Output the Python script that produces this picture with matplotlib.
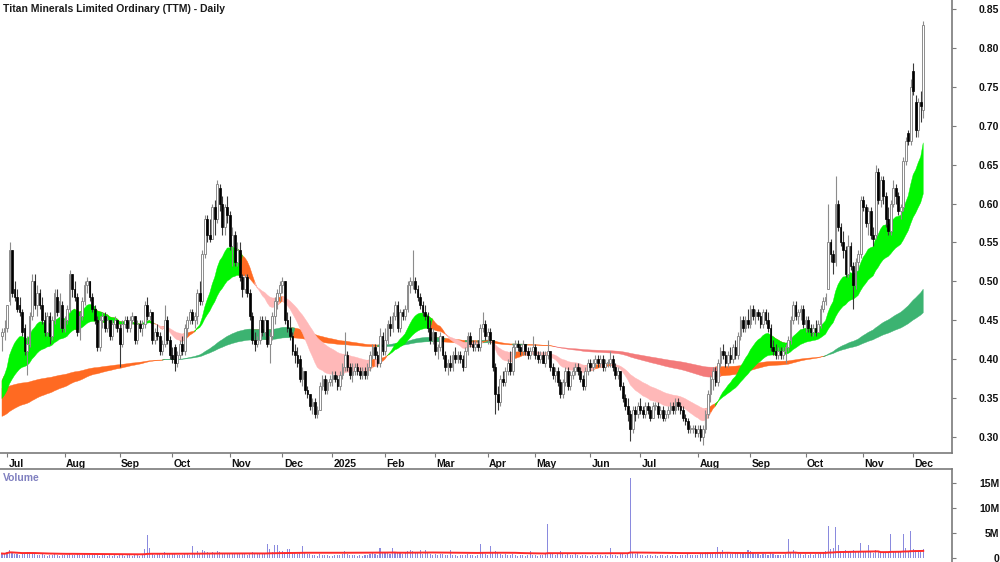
import numpy as np
import pandas as pd
import matplotlib
matplotlib.use("Agg")
import matplotlib.pyplot as plt
from matplotlib.transforms import ScaledTranslation

plt.rcParams['font.family'] = ['Liberation Sans', 'DejaVu Sans']

title = "Titan Minerals Limited Ordinary (TTM) - Daily"
first_session = "2024-06-27"
asx_holidays = ["2024-12-25", "2024-12-26", "2025-01-01", "2025-01-27",
                "2025-04-18", "2025-04-21", "2025-04-25", "2025-06-09"]

# daily prices in cents, one line per month (Jun-2024 ... Dec-2025)
opens_c = [
    43, 43.5,
    44, 47.5, 54, 49, 48, 47, 46, 44, 41, 42, 45.5, 50, 47, 48.5, 47, 45, 43.5, 45.5, 43, 45, 48, 46, 47,
    44, 45, 46.5, 51, 49, 48, 43.5, 45.5, 47.5, 49.5, 50, 48, 46.5, 45, 41.5, 45, 45.5, 44, 45, 43, 44.5, 45,
    44, 42, 44.5, 45, 44, 45, 45.5, 42.5, 44.5, 44, 44.5, 47, 45.5, 46, 42.5, 43.5, 43, 41, 42, 45, 42.5,
    40.5, 41.5, 39.5, 40.5, 42, 41, 44, 45, 46, 45, 45.5, 48.5, 47.5, 53.5, 58, 56, 55.5, 59.5, 58, 62, 60, 57, 59.5,
    58.5, 54.5, 56, 52.5, 54, 50.5, 49, 50.5, 48.5, 45.5, 42.5, 42, 42.5, 45, 43.5, 45, 42, 43, 45.5, 47.5, 48.5,
    49.5, 50, 45, 44, 43, 41, 40.5, 40, 37.5, 38.5, 36, 35.5, 34, 34.5, 33, 33.5, 36.5, 37.5, 36, 37,
    37.5, 38, 37.5, 36.5, 38, 39, 40.5, 39, 38, 38.5, 39, 38.5, 38, 38.5, 38, 39, 40.5, 41.5, 40.5, 39.5, 43,
    41, 42.5, 44.5, 44, 45.5, 47, 44, 46, 45.5, 46.5, 49.5, 49.5, 50, 49, 48, 47, 46, 45.5, 44, 42.5,
    43.5, 41, 41.5, 43, 40.5, 39, 39.5, 39, 40.5, 40, 40.5, 40, 39, 41, 43, 42, 41.5, 42, 41.5, 44, 44.5,
    43, 43.5, 42.5, 39, 35.5, 34.5, 37.5, 37, 38.5, 39.5, 38.5, 41.5, 42, 41.5, 41, 42, 41, 40.5, 41,
    41.5, 40.5, 40, 40.5, 39.5, 40.5, 41, 39, 38, 38.5, 37, 35.5, 37, 38.5, 36.5, 38, 38.5, 39, 38.5, 37.5, 36.5, 38.5,
    39.5, 39, 39.5, 40, 39.5, 40, 39, 39.5, 39.5, 40, 39, 38, 38.5, 36.5, 35, 34, 33, 31, 33.5, 33,
    34, 33.5, 33, 34, 33.5, 32.5, 34, 34, 33, 33.5, 32.5, 33, 33.5, 34, 33.5, 34.5, 34, 33.5, 32.5, 32, 31, 31, 31,
    30.5, 31, 30, 31, 33, 35.5, 37.5, 38.5, 37, 39.5, 41, 40.5, 39.5, 40.5, 40, 41.5, 40.5, 43, 45, 44, 45,
    44.5, 46.5, 45.5, 46, 45.5, 44.5, 46, 45, 44, 41.5, 41, 40.5, 41, 40.5, 41, 41.5, 42.5, 45, 47, 45.5, 46, 46.5,
    44.5, 45, 44, 43.5, 44, 43.5, 44.5, 46.5, 47.5, 49, 55, 53.5, 52.5, 60, 57, 55, 54, 51, 54.5, 52, 49.5, 52.5, 53.5,
    60.5, 59.5, 57.5, 59, 56, 56, 64, 60.5, 63, 61, 58, 56.5, 60, 62, 61, 59, 59.5, 65.5, 69, 68,
    77, 73, 69.5, 73, 72,
]
highs_c = [
    44, 45,
    47, 55, 54, 50, 49, 48, 46.5, 44.5, 43, 46, 51, 51, 49.5, 49, 48, 46, 46, 46, 45.5, 49, 49, 48.5, 47.5,
    45.5, 47, 51.5, 51, 50, 48.5, 46, 48, 50, 50.5, 50, 48.5, 47, 45.5, 45.5, 46, 46, 45.5, 45, 45, 45.5, 45,
    44.5, 45, 45.5, 45.5, 45.5, 46, 45.5, 45, 45, 45, 47.5, 48, 46.5, 46, 44, 44.5, 43.5, 42.5, 47, 45.5, 43,
    41.5, 42, 41, 42.5, 43, 44.5, 45.5, 46.5, 46.5, 46, 49, 50, 54, 58.5, 58.5, 58, 60, 60.5, 63, 62.5, 61, 60, 61,
    59, 57, 56.5, 55, 55, 51, 51, 51, 49, 46, 43.5, 43, 45.5, 45.5, 45.5, 45, 43.5, 46, 48, 49, 50,
    50.5, 50, 46, 45.5, 43.5, 42, 41.5, 40.5, 39, 38.5, 36.5, 35.5, 35, 35, 34, 37, 38, 38, 37.5, 38,
    38.5, 38.5, 38, 38.5, 39.5, 43.5, 41, 39.5, 39.5, 39.5, 39.5, 39, 39, 39, 39.5, 41, 42, 42, 41, 44, 43.5,
    44, 45, 45.5, 46, 47.5, 47.5, 46.5, 46.5, 47, 50, 50.5, 54, 50.5, 49.5, 48.5, 47.5, 47, 46, 45, 44,
    43.5, 42, 43.5, 43, 41, 40, 40.5, 41, 41.5, 41, 41, 40.5, 41.5, 43.5, 43.5, 42.5, 42.5, 42.5, 44.5, 46, 45,
    44, 44, 42.5, 39.5, 36.5, 38, 38.5, 39, 40, 41, 42, 42.5, 42.5, 42, 42.5, 42, 41.5, 41.5, 43,
    42, 41, 41, 41, 41, 42.5, 41, 39.5, 39, 39, 37.5, 37.5, 39, 39, 38.5, 39, 39.5, 39.5, 39, 38, 39, 40,
    40, 40, 40.5, 40.5, 40.5, 40.5, 40, 40, 41, 40.5, 39.5, 39, 38.5, 37, 35.5, 35, 33.5, 34, 34, 34.5,
    35, 34, 34.5, 34.5, 34, 34.5, 34.5, 34.5, 34, 34, 33.5, 34, 34.5, 34.5, 35, 35, 34.5, 34, 33, 32.5, 31.5, 31.5, 31.5,
    31.5, 31.5, 31.5, 33.5, 36, 38, 39, 39, 40, 41.5, 42, 41, 41, 41.5, 42, 42.5, 43.5, 45.5, 45.5, 45.5, 46.5,
    47, 47, 46.5, 46.5, 46, 46.5, 46.5, 46, 44.5, 42.5, 42, 41.5, 41.5, 41.5, 42, 43, 45.5, 47.5, 47.5, 46.5, 47, 47,
    45.5, 45.5, 44.5, 44.5, 45, 45, 47, 48, 48.5, 60, 55.5, 54, 63.5, 60.5, 57.5, 56.5, 54.5, 56, 55, 52.5, 53, 54, 61,
    61, 60, 59.5, 59.5, 57, 65, 64.5, 63.5, 63.5, 61.5, 59.5, 60.5, 63, 62.5, 61.5, 60, 66, 68.5, 69.5, 76,
    78, 74, 73.5, 74.5, 83.5,
]
lows_c = [
    41, 42.5,
    43.5, 47, 48, 47.5, 46, 45.5, 43, 40.5, 38, 41.5, 45, 46.5, 45.5, 46.5, 44.5, 43, 43, 42, 42.5, 44.5, 45.5, 44, 43.5,
    43.5, 44.5, 46, 48, 47.5, 43, 42.5, 45, 47, 48.5, 47.5, 46, 44.5, 41, 41, 44, 43.5, 43.5, 42.5, 42.5, 44, 43.5,
    39, 41.5, 44, 43.5, 43.5, 44.5, 42, 42, 43.5, 43, 44, 45, 45, 42, 42, 42.5, 40.5, 40.5, 41.5, 42, 40,
    39.5, 38.5, 39, 40, 40.5, 40.5, 43, 44.5, 44.5, 44, 44.5, 47, 47, 53, 55, 55, 55.5, 56, 57.5, 59, 56, 56, 57.5,
    54, 52, 52, 52, 50, 48, 48.5, 48, 45, 42, 41, 41.5, 42, 43, 43, 41.5, 39.5, 42.5, 44.5, 46.5, 47.5,
    48.5, 44.5, 43.5, 42.5, 40.5, 39.5, 39, 37, 36.5, 35.5, 35, 33.5, 33, 32.5, 32.5, 33.5, 36, 35.5, 35.5, 36.5,
    36.5, 37, 36, 36, 37.5, 38.5, 38.5, 37.5, 37, 38, 38, 37.5, 37.5, 37.5, 37.5, 38.5, 40, 40, 39, 39, 40.5,
    40.5, 42, 43, 43.5, 45, 43.5, 43.5, 45, 45, 46, 48.5, 49, 48.5, 47.5, 46.5, 45.5, 45, 43.5, 42, 42,
    40.5, 40, 41, 40, 38.5, 38, 38.5, 38.5, 39.5, 39.5, 39.5, 38.5, 39, 40.5, 41.5, 41, 41, 41, 41, 43.5, 42.5,
    42, 42, 38.5, 33, 33.5, 34, 36.5, 36.5, 38, 38, 38, 40.5, 41, 40.5, 40.5, 40.5, 40, 40, 40.5,
    40, 39.5, 39.5, 39.5, 39, 40, 38.5, 37.5, 37, 36.5, 35, 35, 36.5, 36, 36, 37.5, 38, 38, 37, 36, 36, 38,
    38.5, 38.5, 39, 39, 39, 38.5, 38.5, 39, 39, 38.5, 37.5, 37.5, 36, 34.5, 33.5, 32, 29.5, 30.5, 32, 32.5,
    33, 32.5, 32.5, 33, 32, 32.5, 33.5, 32.5, 32.5, 32, 32, 32.5, 33, 33, 33, 33.5, 33, 32, 31.5, 30.5, 30.5, 30.5, 30,
    30, 29.5, 29, 30.5, 32.5, 34.5, 36, 36.5, 36.5, 39, 40, 39, 39, 39.5, 39.5, 40, 40, 42.5, 43.5, 43.5, 44,
    44, 45, 44.5, 45, 44, 44, 44.5, 43.5, 41, 40.5, 40, 40, 40, 40, 39.5, 41, 42, 44.5, 45, 44.5, 45, 44,
    43.5, 43.5, 43, 43, 43, 43.5, 44, 46, 47, 49, 52.5, 51, 52, 56.5, 54.5, 53, 50.5, 50.5, 51.5, 46.5, 49, 51.5, 53,
    59, 57, 56, 55.5, 54.5, 55.5, 60, 59.5, 60, 57, 56, 56, 59.5, 60, 58.5, 58, 59, 65, 67.5, 67.5,
    74, 68.5, 68.5, 70.5, 71,
]
closes_c = [
    43.5, 44,
    47, 54, 48.5, 48, 46.5, 46, 43.5, 41, 42, 45.5, 50, 47, 48.5, 47, 45, 43.5, 45.5, 43, 45, 48.5, 46, 47.5, 44,
    45, 46.5, 51, 49, 48, 43.5, 45.5, 47.5, 49.5, 50, 48, 46.5, 45, 41.5, 45, 45.5, 44, 45, 43, 44.5, 45, 44,
    42, 44.5, 45, 44, 45, 45.5, 42.5, 44.5, 44, 44.5, 47, 45.5, 46, 42.5, 43.5, 43, 41, 42, 45, 42.5, 40.5,
    40, 39.5, 40.5, 42, 41, 44, 45, 46, 45, 45.5, 48.5, 47.5, 53.5, 58, 56, 55.5, 59.5, 58, 62.5, 60, 57, 59.5, 58.5,
    54.5, 56, 52.5, 54, 50.5, 49, 50.5, 48.5, 45.5, 42.5, 42, 42.5, 45, 43.5, 45, 42, 43, 45.5, 47.5, 48.5, 49.5,
    50, 45, 44, 43, 41, 40.5, 39.5, 37.5, 38.5, 36, 35.5, 34, 34.5, 33, 33.5, 36.5, 37.5, 36, 37, 37.5,
    38, 37.5, 36.5, 38, 39, 40.5, 39, 38, 38.5, 39, 38.5, 38, 38.5, 38, 39, 40.5, 41.5, 40.5, 39.5, 43, 41,
    42.5, 44.5, 44, 45.5, 47, 44, 46, 45.5, 46.5, 49.5, 50, 50, 49, 48, 47, 46, 45.5, 44, 42.5, 43.5,
    41, 41.5, 43, 40.5, 39, 39.5, 39, 40.5, 40, 40.5, 40, 39, 41, 43, 42, 41.5, 42, 41.5, 44, 44.5, 43,
    43.5, 42.5, 39, 35.5, 34.5, 37.5, 37, 38.5, 39.5, 38.5, 41.5, 42, 41.5, 41, 42, 41, 40.5, 41, 41.5,
    40.5, 40, 40.5, 39.5, 40.5, 41, 39, 38, 38.5, 37, 35.5, 37, 38.5, 36.5, 38, 38.5, 39, 38.5, 37.5, 36.5, 38.5, 39.5,
    39, 39.5, 40, 39.5, 40, 39, 39.5, 39.5, 40, 39, 38, 38.5, 36.5, 35, 34, 33, 31, 33.5, 33, 34,
    33.5, 33, 34, 33.5, 32.5, 34, 34, 33, 33.5, 32.5, 33, 33.5, 34, 33.5, 34.5, 34, 33.5, 32.5, 32, 31, 31, 31, 30.5,
    31, 30, 31, 33, 35.5, 37.5, 38.5, 37, 39.5, 41, 40.5, 39.5, 40.5, 40, 41.5, 40.5, 43, 45, 44, 45, 44.5,
    46.5, 45.5, 46, 45.5, 44.5, 46, 45, 44, 41.5, 41, 40.5, 41, 40.5, 41, 41.5, 42.5, 45, 47, 45.5, 46, 46.5, 44.5,
    45, 44, 43.5, 44, 43.5, 44.5, 46.5, 47.5, 48, 55, 53.5, 52.5, 60, 57, 55, 54, 51, 54.5, 52, 49.5, 52.5, 53.5, 60.5,
    59.5, 57.5, 59, 56, 55.5, 64, 60.5, 63, 61, 58, 56.5, 60, 62, 61, 59, 59.5, 65.5, 68, 68, 75,
    74.5, 69.5, 73, 72.5, 83,
]
# daily volume in millions of shares
volume_m = [
    0.9, 0.8,
    1.2, 1.6, 1.1, 0.9, 0.8, 0.7, 0.9, 1.1, 1.2, 0.8, 1.0, 0.9, 0.7, 0.6, 0.8, 0.7, 0.5, 0.7, 0.6, 0.8, 0.6, 0.5, 0.7,
    0.6, 0.7, 1.1, 0.7, 0.6, 0.9, 0.7, 0.6, 0.8, 0.7, 0.6, 0.7, 0.9, 0.6, 0.5, 0.6, 0.7, 0.5, 0.6, 0.5, 0.6, 0.5,
    0.8, 0.6, 0.5, 0.6, 0.7, 0.5, 0.8, 0.6, 0.5, 0.7, 1.8, 4.6, 2.0, 1.1, 0.7, 0.8, 1.0, 0.7, 1.3, 0.8, 0.9,
    0.8, 0.9, 0.7, 0.6, 0.7, 1.0, 0.8, 0.7, 2.4, 0.9, 1.4, 1.1, 1.6, 1.5, 1.2, 1.0, 1.3, 1.1, 1.4, 1.2, 1.1, 1.0, 0.9,
    1.1, 0.9, 1.0, 0.8, 1.0, 0.9, 0.8, 0.7, 1.1, 1.2, 1.0, 0.8, 1.1, 0.9, 1.0, 2.9, 1.8, 1.2, 2.7, 2.6, 1.4,
    1.5, 1.3, 1.8, 1.9, 1.1, 1.0, 0.9, 1.2, 2.4, 1.0, 0.8, 0.9, 0.7, 0.6, 0.5, 0.8, 0.7, 0.6, 0.6, 0.5,
    0.5, 0.6, 0.7, 0.6, 0.8, 1.4, 0.8, 0.6, 0.7, 0.6, 0.5, 0.6, 0.5, 0.6, 0.7, 0.9, 1.0, 0.8, 0.7, 2.1, 1.1,
    1.0, 1.1, 0.9, 2.0, 1.2, 1.1, 1.0, 0.8, 1.1, 1.4, 1.7, 1.5, 1.2, 1.0, 1.6, 0.9, 1.7, 1.1, 0.8, 0.7,
    0.8, 0.7, 0.9, 0.8, 0.7, 0.6, 1.6, 0.7, 0.6, 0.5, 0.6, 0.7, 0.6, 0.8, 0.7, 0.6, 0.5, 0.6, 2.9, 1.3, 0.8,
    0.7, 2.4, 1.1, 1.4, 1.0, 0.9, 0.7, 0.8, 0.6, 0.7, 0.8, 0.6, 0.5, 0.6, 0.7, 0.5, 0.6, 1.4, 0.7,
    0.6, 0.5, 0.7, 0.6, 0.8, 6.9, 1.0, 0.8, 0.7, 0.9, 1.5, 0.8, 0.7, 0.8, 0.6, 0.7, 1.1, 0.6, 0.5, 0.7, 0.6, 0.5,
    0.5, 0.6, 0.5, 0.7, 0.6, 0.5, 0.6, 0.5, 2.0, 0.7, 0.6, 0.5, 0.8, 0.9, 0.7, 0.8, 16.1, 1.1, 0.8, 1.2,
    0.7, 0.6, 0.5, 0.6, 0.7, 0.5, 0.6, 0.5, 0.7, 0.6, 0.5, 0.6, 0.5, 0.7, 0.6, 0.5, 0.6, 0.7, 0.6, 0.8, 0.7, 0.6, 0.7,
    0.7, 0.8, 1.0, 1.2, 1.2, 1.1, 1.0, 0.9, 2.2, 1.1, 1.6, 0.9, 1.0, 0.8, 0.9, 1.1, 1.1, 1.2, 1.0, 0.9, 1.6,
    1.5, 1.0, 0.9, 0.8, 0.7, 0.9, 0.8, 0.7, 1.1, 0.8, 0.7, 0.6, 0.7, 0.6, 0.8, 3.9, 1.1, 1.6, 1.0, 0.9, 0.8, 0.7,
    0.8, 0.7, 0.8, 0.7, 0.8, 0.9, 1.2, 1.3, 1.4, 6.5, 1.8, 2.0, 6.3, 2.6, 1.5, 1.4, 1.6, 1.5, 1.5, 1.6, 1.4, 1.3, 3.0,
    1.4, 1.3, 2.6, 1.2, 1.1, 1.7, 1.4, 1.3, 1.2, 1.1, 1.3, 4.9, 1.4, 1.3, 1.2, 1.3, 4.8, 2.0, 1.5, 5.5,
    1.8, 1.6, 1.3, 1.2, 1.9,
]
# ribbon values at the first session (fast, slow)
short_ribbon_start = [0.365, 0.345]
long_ribbon_start = [0.325, 0.362]
short_spans = [18, 40]
long_spans = [150, 250]
volume_avg_window = 100
price_ticks = [0.30, 0.35, 0.40, 0.45, 0.50, 0.55, 0.60, 0.65, 0.70, 0.75, 0.80, 0.85]
volume_ticks = [0, 5e6, 10e6, 15e6]
volume_tick_labels = ["0", "5M", "10M", "15M"]

# ---------------------------------------------------------------------------
n = min(len(opens_c), len(highs_c), len(lows_c), len(closes_c), len(volume_m))
o = np.array(opens_c[:n]) / 100
h = np.array(highs_c[:n]) / 100
l = np.array(lows_c[:n]) / 100
c = np.array(closes_c[:n]) / 100
h = np.maximum(h, np.maximum(o, c))
l = np.minimum(l, np.minimum(o, c))
vol = np.array(volume_m[:n]) * 1e6
dates = pd.bdate_range(first_session, periods=n, freq="C", holidays=asx_holidays)
x = np.arange(n)


def ema_from(series, span, start):
    s = pd.Series(np.r_[start, series])
    return s.ewm(span=span, adjust=False).mean().to_numpy()[1:]


fig = plt.figure(figsize=(10, 5.62), dpi=100)
W, H = 1000, 562
ax = fig.add_axes([0, (H - 453) / H, 952 / W, 453 / H])
axv = fig.add_axes([0, 0, 952 / W, (H - 469) / H])


def draw_ribbon(axis, spans, start, colors, z):
    fast = ema_from(c, spans[0], start[0])
    slow = ema_from(c, spans[1], start[1])
    slope = np.r_[0, np.diff(slow)]
    bull = (fast > slow) & (slope > 0)
    bear = (fast < slow) & (slope < 0)
    neut = ~(bull | bear)
    for mask, col in ((neut, colors[1]), (bull, colors[0]), (bear, colors[2])):
        ext = mask | np.r_[mask[1:], False] | np.r_[False, mask[:-1]]
        axis.fill_between(x, fast, slow, where=ext, color=col, lw=0.3,
                          edgecolor=col, zorder=z, interpolate=True)


draw_ribbon(ax, long_spans, long_ribbon_start, ("#3cb371", "#ff6a22", "#f37a7a"), 1)
draw_ribbon(ax, short_spans, short_ribbon_start, ("#00f500", "#ff6a22", "#ffb8b8"), 2)

up = c >= o
body_bot = np.minimum(o, c)
body_h = np.maximum(np.abs(c - o), 0.0015)
ax.vlines(x[up], l[up], h[up], color="#8c8c8c", lw=0.8, zorder=3)
ax.vlines(x[~up], l[~up], h[~up], color="#3a3a3a", lw=0.8, zorder=3)
ax.bar(x[up], body_h[up], bottom=body_bot[up], width=0.7, color="white",
       edgecolor="#8c8c8c", lw=0.7, zorder=4)
ax.bar(x[~up], body_h[~up], bottom=body_bot[~up], width=0.7, color="black",
       edgecolor="black", lw=0.5, zorder=4)

xlim = (-0.8, 379.5)
ax.set_xlim(*xlim)
ax.set_ylim(0.2794, 0.8615)
for s in ("left", "top"):
    ax.spines[s].set_visible(False)
for s in ("right", "bottom"):
    ax.spines[s].set_color("#7a7a7a")
    ax.spines[s].set_linewidth(1.2)

ax.yaxis.tick_right()
ax.set_yticks(price_ticks)
ax.set_yticklabels([f"{t:.2f}" for t in price_ticks])
ax.tick_params(axis="y", direction="out", length=3, color="#7a7a7a", pad=31,
               labelsize=7.5, labelcolor="#111111")
for lab in ax.get_yticklabels():
    lab.set_ha("right")
    lab.set_fontweight("bold")

month_idx = [i for i in range(1, n) if dates[i].month != dates[i - 1].month]
month_lab = [("%d" % dates[i].year) if dates[i].month == 1 else dates[i].strftime("%b")
             for i in month_idx]
ax.set_xticks(month_idx)
ax.set_xticklabels(month_lab)
ax.tick_params(axis="x", direction="out", length=3, color="#7a7a7a", pad=1,
               labelsize=7.5, labelcolor="#111111")
off = ScaledTranslation(1.5 / 100, 0, fig.dpi_scale_trans)
for lab in ax.get_xticklabels():
    lab.set_ha("left")
    lab.set_fontweight("bold")
    lab.set_transform(lab.get_transform() + off)

# volume panel
axv.bar(x, vol, width=0.42, color="#8a8ade", zorder=2)
vol_ma = pd.Series(vol).rolling(volume_avg_window, min_periods=1).mean()
axv.plot(x, vol_ma, color="#ff2a2a", lw=1.4, zorder=3)
axv.set_xlim(*xlim)
axv.set_ylim(-0.8e6, 17.8e6)
for s in ("left", "bottom"):
    axv.spines[s].set_visible(False)
for s in ("right", "top"):
    axv.spines[s].set_color("#7a7a7a")
    axv.spines[s].set_linewidth(1.2)
axv.set_xticks([])
axv.yaxis.tick_right()
axv.set_yticks(volume_ticks)
axv.set_yticklabels(volume_tick_labels)
axv.tick_params(axis="y", direction="out", length=3, color="#7a7a7a", pad=31,
                labelsize=7.5, labelcolor="#111111")
for lab in axv.get_yticklabels():
    lab.set_ha("right")
    lab.set_fontweight("bold")

fig.text(3 / W, 1 - 9 / H, title, ha="left", va="center", fontsize=7.5,
         fontweight="bold", color="#1a1a1a")
fig.text(3 / W, 1 - 478 / H, "Volume", ha="left", va="center", fontsize=7.5,
         fontweight="bold", color="#8080c0")

fig.savefig("out.png", dpi=100)
